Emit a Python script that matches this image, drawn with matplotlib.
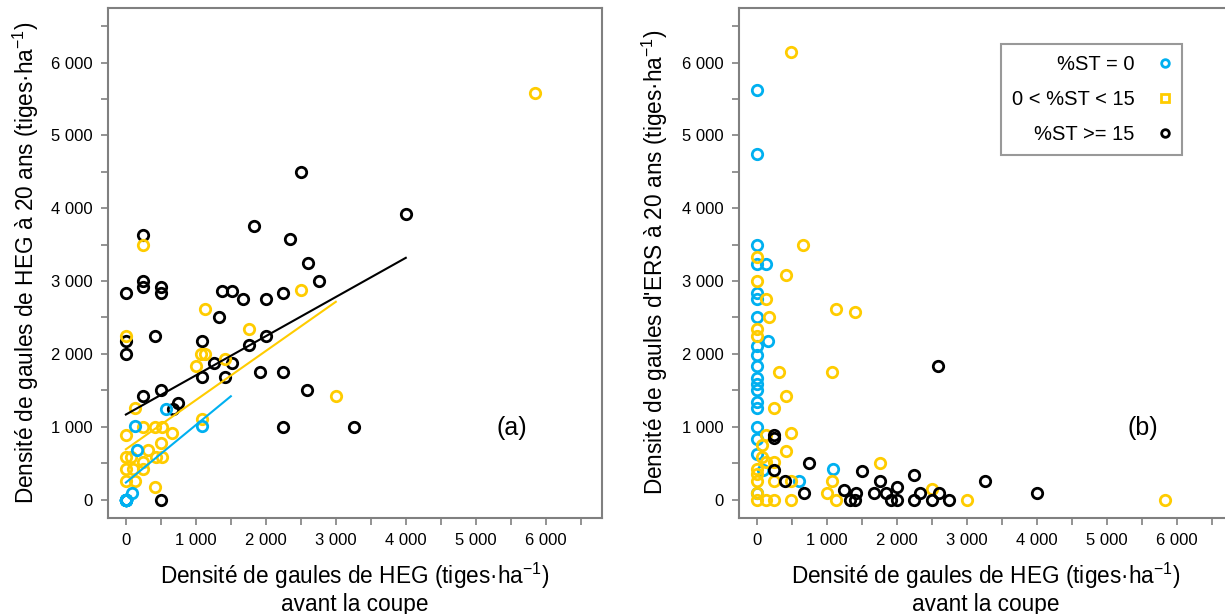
import matplotlib
matplotlib.use('Agg')
import matplotlib.pyplot as plt
from matplotlib.lines import Line2D

plt.rcParams['font.family'] = ['Liberation Sans', 'DejaVu Sans']
plt.rcParams['mathtext.fontset'] = 'custom'
plt.rcParams['mathtext.rm'] = 'Liberation Sans'
plt.rcParams['mathtext.default'] = 'regular'

# (a) HEG avant coupe -> HEG a 20 ans
a_st0_x = [571, 129, 1086, 162, 81, 0, 0, 0, 0, 0, 0, 0, 0, 0, 0, 0, 0, 0, 0, 0, 0, 0, 0, 0]
a_st0_y = [1245, 1007, 1007, 677, 96, 0, 0, 0, 0, 0, 0, 0, 0, 0, 0, 0, 0, 0, 0, 0, 0, 0, 0, 0]
a_mid_x = [2500, 1130, 1760, 0, 1070, 1130, 1410, 1000, 3000, 130, 1090, 250, 410, 510, 0, 660,
           500, 320, 0, 80, 430, 510, 240, 0, 100, 240, 0, 130, 420, 5850, 240]
a_mid_y = [2880, 2620, 2340, 2250, 2000, 2000, 1930, 1830, 1420, 1260, 1100, 1000, 1000, 1000, 880, 920,
           770, 680, 590, 590, 590, 590, 520, 420, 420, 420, 260, 260, 170, 5580, 3500]
a_hi_x = [0, 240, 240, 240, 500, 500, 1370, 1510, 1670, 2000, 2250, 2600, 2760, 1330, 420, 0, 0, 1090,
          1760, 2000, 1260, 1510, 1420, 1090, 1920, 2250, 2590, 240, 500, 750, 680, 2250, 3260, 500,
          1830, 2340, 2500, 4010]
a_hi_y = [2830, 3000, 2920, 3630, 2920, 2830, 2870, 2870, 2750, 2750, 2830, 3250, 3000, 2500, 2250, 2170,
          2000, 2170, 2120, 2250, 1880, 1880, 1680, 1680, 1750, 1750, 1510, 1420, 1510, 1330, 1240, 1000,
          1000, 0, 3750, 3580, 4500, 3920]

# droites de regression (a): intercept, pente, x max
fit_intercept = [233, 690, 1167]
fit_slope = [0.79, 0.675, 0.538]
fit_xmax = [1500, 3000, 4000]

# (b) HEG avant coupe -> ERS a 20 ans
b_st0_x = [0, 0, 0, 0, 130, 0, 0, 0, 160, 0, 0, 0, 0, 0, 0, 0, 0, 0, 0, 0, 95, 1090, 600, 0]
b_st0_y = [5620, 4740, 3500, 3240, 3240, 2830, 2750, 2500, 2170, 2110, 1990, 1830, 1670, 1580, 1500,
           1340, 1250, 1000, 830, 630, 410, 420, 250, 90]
b_mid_x = [495, 660, 0, 420, 0, 130, 1130, 1410, 170, 0, 0, 320, 1080, 420, 240, 130, 490, 80, 420, 80,
           130, 240, 0, 0, 1760, 0, 240, 490, 1080, 2500, 1000, 0, 0, 130, 240, 490, 1130, 3000, 5840]
b_mid_y = [6150, 3500, 3330, 3080, 3000, 2750, 2620, 2570, 2500, 2340, 2240, 1750, 1750, 1420, 1250, 880,
           920, 750, 670, 590, 510, 510, 420, 350, 500, 250, 250, 250, 250, 140, 90, 90, 0, 0, 0, 0, 0, 0, 0]
b_hi_x = [2590, 240, 240, 240, 750, 410, 670, 1500, 1250, 1330, 1400, 1420, 1670, 1760, 1840, 1920, 2000,
          2010, 2250, 2250, 2340, 2500, 2600, 2750, 3260, 4000]
b_hi_y = [1830, 890, 840, 410, 500, 250, 90, 385, 130, 0, 0, 90, 90, 250, 90, 0, 170, 0, 340, 0, 90, 0,
          90, 0, 250, 90]

groups = ['%ST = 0', '0 < %ST < 15', '%ST >= 15']
colors = ['#00B0F0', '#FFCC00', '#000000']
ticks = list(range(0, 7000, 500))
ticklabels = [('%d 000' % (t // 1000) if t > 0 else '0') if t % 1000 == 0 else '' for t in ticks]

fig = plt.figure(figsize=(12.25, 6.14), dpi=100)
ax1 = fig.add_axes([0.0879, 0.1568, 0.4033, 0.8302])
ax2 = fig.add_axes([0.6029, 0.1568, 0.4033, 0.8302])

xlab = 'Densité de gaules de HEG (tiges·ha$^{-1}$)\navant la coupe'

for ax in [ax1, ax2]:
    ax.set_xlim(-260, 6800)
    ax.set_ylim(-250, 6750)
    ax.set_xticks(ticks)
    ax.set_xticklabels(ticklabels)
    ax.set_yticks(ticks)
    ax.set_yticklabels(ticklabels)
    ax.tick_params(length=5, width=1.2, color='#808080', labelsize=12, pad=6)
    for s in ax.spines.values():
        s.set_color('#808080')
        s.set_linewidth(1.5)
    ax.set_xlabel(xlab, fontsize=16.3, labelpad=9, linespacing=1.1)

a_sets = [(a_hi_x, a_hi_y), (a_mid_x, a_mid_y), (a_st0_x, a_st0_y)]
b_sets = [(b_st0_x, b_st0_y), (b_mid_x, b_mid_y), (b_hi_x, b_hi_y)]
a_cols = [colors[2], colors[1], colors[0]]
for (x, y), c in zip(a_sets, a_cols):
    ax1.plot(x, y, 'o', mfc='none', mec=c, ms=7.5, mew=2)
for (x, y), c in zip(b_sets, colors):
    ax2.plot(x, y, 'o', mfc='none', mec=c, ms=7.5, mew=2)

for b0, b1, xm, c in zip(fit_intercept, fit_slope, fit_xmax, colors):
    ax1.plot([0, xm], [b0, b0 + b1 * xm], color=c, lw=1.5)

ax1.set_ylabel('Densité de gaules de HEG à 20 ans (tiges·ha$^{-1}$)', fontsize=16.3)
ax2.set_ylabel("Densité de gaules d'ERS à 20 ans (tiges·ha$^{-1}$)", fontsize=16.3)
ax1.yaxis.set_label_coords(-0.134, 0.5)
ax2.yaxis.set_label_coords(-0.138, 0.5)
ax1.text(5510, 980, '(a)', fontsize=18, ha='center', va='center')
ax2.text(5520, 980, '(b)', fontsize=18, ha='center', va='center')

handles = [Line2D([], [], ls='none', marker='o', mfc='none', mec=colors[0], ms=5.5, mew=2),
           Line2D([], [], ls='none', marker='s', mfc='none', mec=colors[1], ms=5.5, mew=2),
           Line2D([], [], ls='none', marker='o', mfc='none', mec=colors[2], ms=5.5, mew=2)]
leg = fig.legend(handles, groups, loc='upper right', bbox_to_anchor=(1182 / 1225, 1 - 44 / 614),
                 markerfirst=False, fancybox=False, fontsize=14.5, labelspacing=0.8,
                 handlelength=0.6, handletextpad=1.2, borderpad=0.55, borderaxespad=0)
leg.get_frame().set_edgecolor('#808080')
leg.get_frame().set_linewidth(1.5)

fig.savefig('out.png', dpi=100)
